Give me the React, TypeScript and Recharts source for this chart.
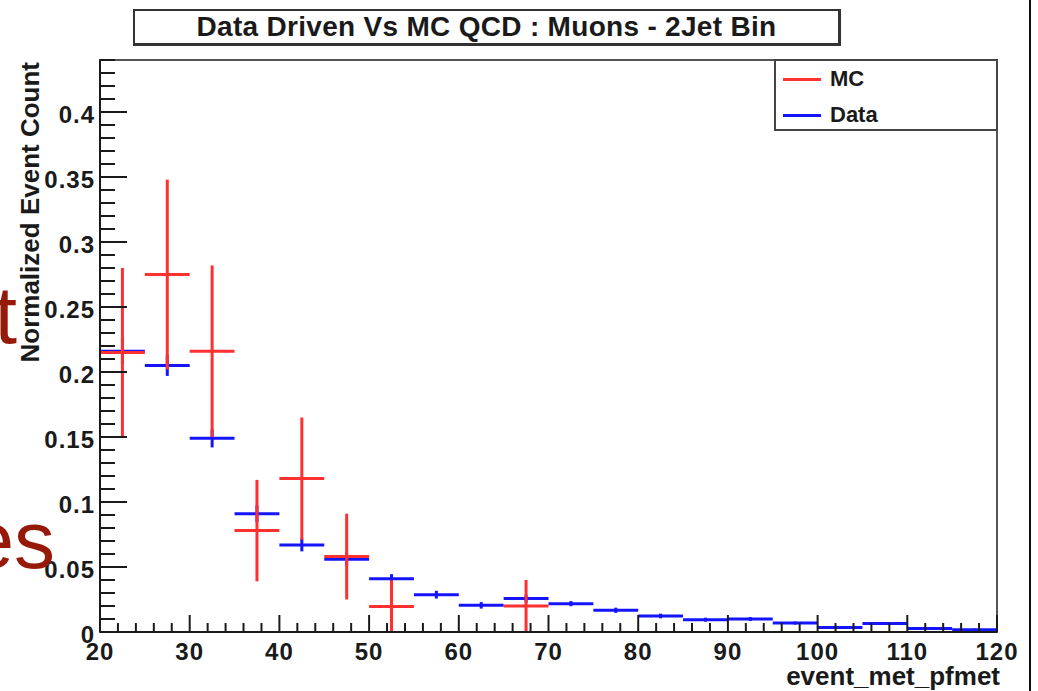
import { ErrorBar, Legend, ReferenceArea, Scatter, ScatterChart, XAxis, YAxis } from "recharts";

// bin centres (5 GeV bins from 20 to 120)
const binCenters = [
  22.5, 27.5, 32.5, 37.5, 42.5, 47.5, 52.5, 57.5, 62.5, 67.5, 72.5, 77.5, 82.5,
  87.5, 92.5, 97.5, 102.5, 107.5, 112.5, 117.5,
];
const binHalfWidth = 2.5;

const dataValues = [
  0.216, 0.205, 0.149, 0.091, 0.067, 0.056, 0.041, 0.0287, 0.0205, 0.0257,
  0.0218, 0.0167, 0.0123, 0.0095, 0.01, 0.0069, 0.0034, 0.0065, 0.0026, 0.0018,
];
const dataErrors = [
  0.01, 0.008, 0.007, 0.0065, 0.005, 0.005, 0.0035, 0.003, 0.0025, 0.003,
  0.002, 0.002, 0.0018, 0.0015, 0.0015, 0.0012, 0.001, 0.001, 0.0008, 0.0008,
];

const mcCenters = [22.5, 27.5, 32.5, 37.5, 42.5, 47.5, 52.5, 67.5];
const mcValues = [0.215, 0.275, 0.216, 0.078, 0.118, 0.058, 0.0197, 0.02];
const mcErrors = [0.065, 0.073, 0.066, 0.039, 0.047, 0.033, 0.02, 0.02];

const xTicks = [
  20, 22, 24, 26, 28, 30, 32, 34, 36, 38, 40, 42, 44, 46, 48, 50, 52, 54, 56,
  58, 60, 62, 64, 66, 68, 70, 72, 74, 76, 78, 80, 82, 84, 86, 88, 90, 92, 94,
  96, 98, 100, 102, 104, 106, 108, 110, 112, 114, 116, 118, 120,
];
const yTicks = [
  0, 0.01, 0.02, 0.03, 0.04, 0.05, 0.06, 0.07, 0.08, 0.09, 0.1, 0.11, 0.12,
  0.13, 0.14, 0.15, 0.16, 0.17, 0.18, 0.19, 0.2, 0.21, 0.22, 0.23, 0.24, 0.25,
  0.26, 0.27, 0.28, 0.29, 0.3, 0.31, 0.32, 0.33, 0.34, 0.35, 0.36, 0.37, 0.38,
  0.39, 0.4, 0.41, 0.42, 0.43, 0.44,
];
const yLabelValues = [0, 0.05, 0.1, 0.15, 0.2, 0.25, 0.3, 0.35, 0.4];
const yLabelTexts = ["0", "0.05", "0.1", "0.15", "0.2", "0.25", "0.3", "0.35", "0.4"];

const dataPoints = binCenters.map((x, i) => ({
  x,
  y: dataValues[i],
  xErr: binHalfWidth,
  yErr: dataErrors[i],
}));
const mcPoints = mcCenters.map((x, i) => ({
  x,
  y: mcValues[i],
  xErr: binHalfWidth,
  yErr: mcErrors[i],
}));

const font = '"Liberation Sans", Arial, Helvetica, sans-serif';
const ink = "#1a1a1a";
const red = "#ff3030";
const blue = "#1414ff";

function XTick({ x, y, payload }: any) {
  const v = Number(payload.value);
  const major = v % 10 === 0;
  return (
    <g>
      <line x1={x} x2={x} y1={y} y2={y - (major ? 17 : 9)} stroke={ink} strokeWidth={2} />
      {major ? (
        <text
          x={x}
          y={y + 28}
          textAnchor="middle"
          fontFamily={font}
          fontWeight="bold"
          fontSize={24}
          letterSpacing={1}
          fill={ink}
        >
          {v}
        </text>
      ) : null}
    </g>
  );
}

function YTick({ x, y, payload }: any) {
  const v = Number(payload.value);
  const idx = yLabelValues.findIndex((l) => Math.abs(l - v) < 1e-6);
  const major = idx >= 0;
  return (
    <g>
      <line x1={x} x2={x + (major ? 27 : 15)} y1={y} y2={y} stroke={ink} strokeWidth={2} />
      {major ? (
        <text
          x={x - 5}
          y={y + 10.5}
          textAnchor="end"
          fontFamily={font}
          fontWeight="bold"
          fontSize={24}
          letterSpacing={1}
          fill={ink}
        >
          {yLabelTexts[idx]}
        </text>
      ) : null}
    </g>
  );
}

function YTitle({ viewBox }: any) {
  const x = 39;
  const y = viewBox ? viewBox.y + 2 : 62;
  return (
    <text
      x={x}
      y={y}
      transform={`rotate(-90, ${x}, ${y})`}
      textAnchor="end"
      fontFamily={font}
      fontWeight="bold"
      fontSize={26}
      fill={ink}
    >
      Normalized Event Count
    </text>
  );
}

function LegendBox() {
  const row = (color: string, label: string) => (
    <div style={{ display: "flex", alignItems: "center", height: 36 }}>
      <div style={{ width: 38, height: 3, background: color, marginLeft: 7, marginRight: 9 }} />
      <span style={{ fontFamily: font, fontWeight: "bold", fontSize: 22, color: ink }}>{label}</span>
    </div>
  );
  return (
    <div
      style={{
        boxSizing: "border-box",
        width: 224,
        height: 72,
        border: "2px solid #444",
        background: "#fff",
      }}
    >
      {row(red, "MC")}
      {row(blue, "Data")}
    </div>
  );
}

const EmptyShape = () => <g />;

export default function App() {
  return (
    <div
      style={{
        position: "absolute",
        left: 0,
        top: 0,
        width: 1038,
        height: 691,
        background: "#fff",
        overflow: "hidden",
      }}
    >
      <ScatterChart width={1038} height={691} margin={{ top: 60, right: 41, bottom: 29, left: 40 }}>
        <ReferenceArea x1={20} x2={120} y1={0} y2={0.44} fill="none" stroke="#555" strokeWidth={2} />
        <XAxis
          type="number"
          dataKey="x"
          domain={[20, 120]}
          ticks={xTicks}
          interval={0}
          tick={XTick}
          tickSize={0}
          tickMargin={0}
          tickLine={false}
          height={30}
          axisLine={{ stroke: ink, strokeWidth: 2 }}
          allowDataOverflow
        />
        <YAxis
          type="number"
          dataKey="y"
          domain={[0, 0.44]}
          ticks={yTicks}
          interval={0}
          tick={YTick}
          tickSize={0}
          tickMargin={0}
          tickLine={false}
          width={60}
          axisLine={{ stroke: ink, strokeWidth: 2 }}
          allowDataOverflow
          label={<YTitle />}
        />
        <Legend
          layout="vertical"
          align="center"
          verticalAlign="middle"
          wrapperStyle={{ position: "absolute", left: 774, top: 59, width: 224, height: 72 }}
          content={() => <LegendBox />}
        />
        <Scatter name="Data" data={dataPoints} shape={EmptyShape} isAnimationActive={false}>
          <ErrorBar dataKey="xErr" direction="x" width={0} stroke={blue} strokeWidth={3} />
          <ErrorBar dataKey="yErr" direction="y" width={0} stroke={blue} strokeWidth={3} />
        </Scatter>
        <Scatter name="MC" data={mcPoints} shape={EmptyShape} isAnimationActive={false}>
          <ErrorBar dataKey="xErr" direction="x" width={0} stroke={red} strokeWidth={3} />
          <ErrorBar dataKey="yErr" direction="y" width={0} stroke={red} strokeWidth={3} />
        </Scatter>
      </ScatterChart>

      {/* title pave */}
      <div
        style={{
          position: "absolute",
          left: 133,
          top: 9,
          width: 708,
          height: 37,
          boxSizing: "border-box",
          border: "2px solid #333",
          borderRightWidth: 3,
          borderBottomWidth: 3,
          fontFamily: font,
          fontWeight: "bold",
          fontSize: 28,
          letterSpacing: 0.3,
          lineHeight: "32px",
          textAlign: "center",
          color: ink,
          background: "#fff",
        }}
      >
        Data Driven Vs MC QCD : Muons - 2Jet Bin
      </div>

      {/* x-axis title */}
      <div
        style={{
          position: "absolute",
          right: 1038 - 1000,
          top: 662,
          fontFamily: font,
          fontWeight: "bold",
          fontSize: 26,
          lineHeight: "28px",
          color: ink,
          whiteSpace: "nowrap",
        }}
      >
        event_met_pfmet
      </div>

      {/* slide remnants around the picture */}
      <svg width={1038} height={691} style={{ position: "absolute", left: 0, top: 0, pointerEvents: "none" }}>
        <text x={17} y={343} textAnchor="end" fontFamily={font} fontSize={82} fill="#961a0a">
          t
        </text>
        <text x={55} y={568} textAnchor="end" fontFamily={font} fontSize={82} fill="#961a0a">
          es
        </text>
        <line x1={1030} x2={1030} y1={0} y2={691} stroke="#111" strokeWidth={2} />
      </svg>
    </div>
  );
}
